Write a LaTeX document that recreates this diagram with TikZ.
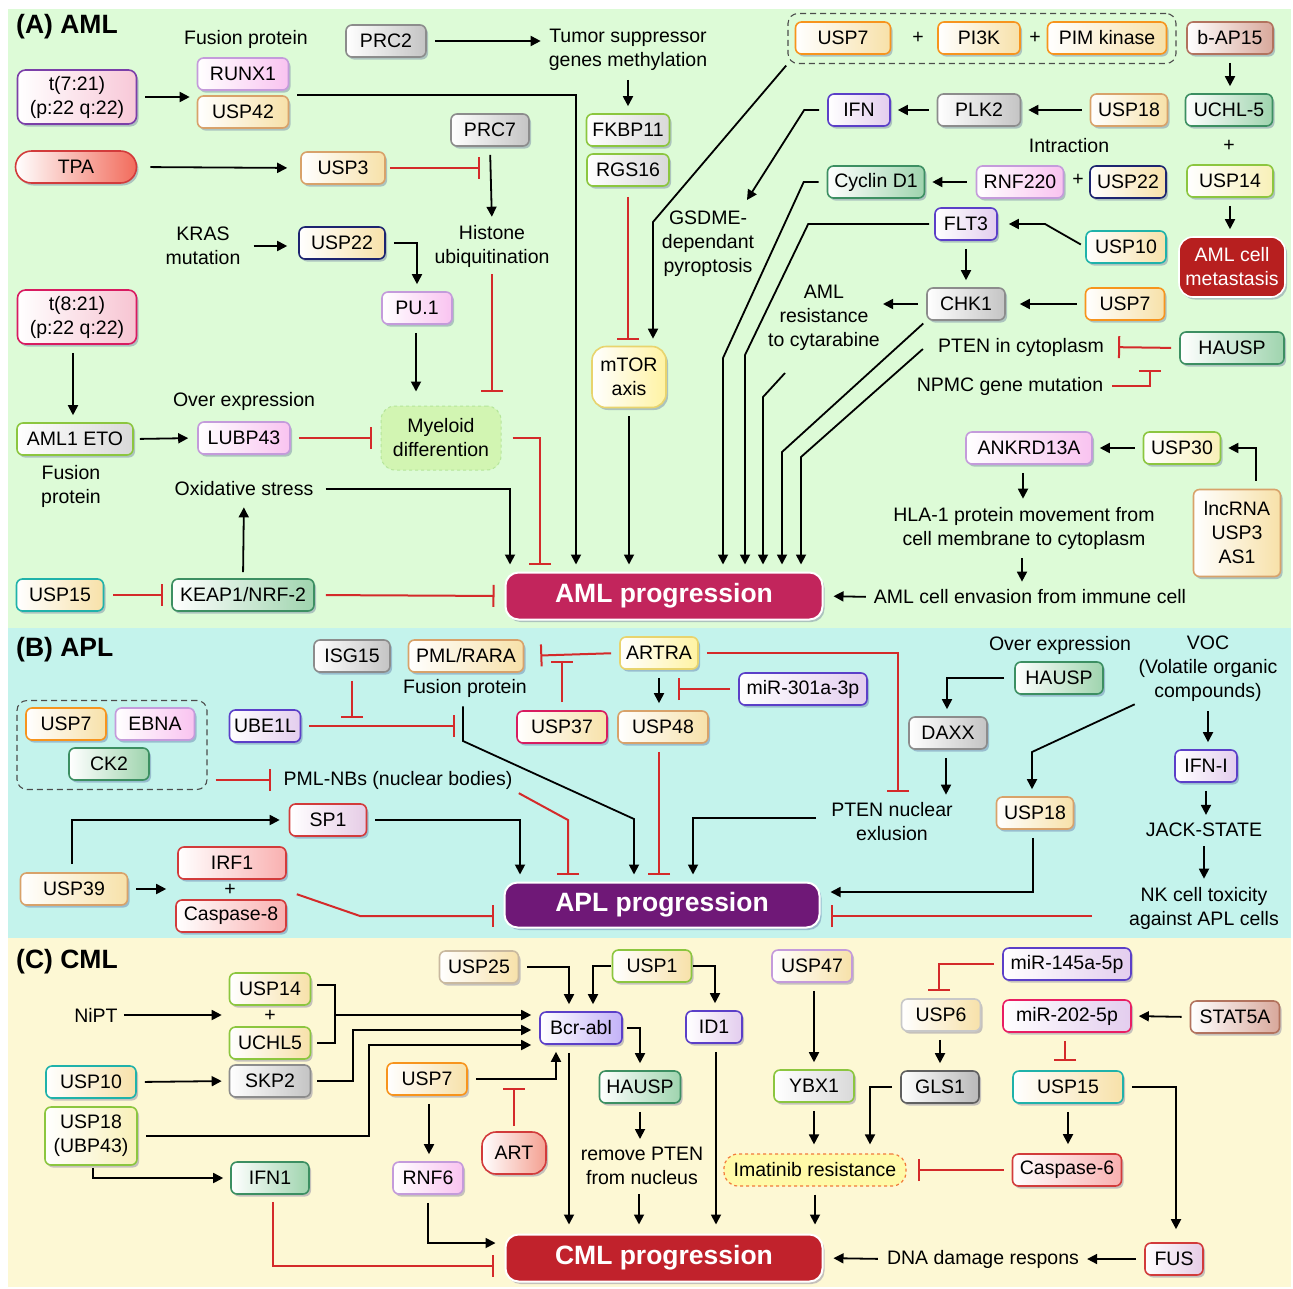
\documentclass[tikz,border=0pt]{standalone}
\usepackage{fontspec}
\setmainfont{Liberation Sans}
\usetikzlibrary{arrows.meta,shadows}
\newcommand\fsz{\fontsize{19.5}{24}\selectfont}
\newcommand\bsz{\fontsize{26.5}{30}\selectfont\bfseries}
\definecolor{bgA}{HTML}{DDFBD7}
\definecolor{bgB}{HTML}{C4F3EC}
\definecolor{bgC}{HTML}{FDF8D4}
\definecolor{purpB}{HTML}{7B3FA8}
\definecolor{pinkF}{HTML}{F9C3F0}
\definecolor{pinkT}{HTML}{F8C8D8}
\definecolor{lavB}{HTML}{C49BDB}
\definecolor{tanB}{HTML}{D8A26A}
\definecolor{wheatF}{HTML}{F7E1A9}
\definecolor{grayB}{HTML}{8C8C8C}
\definecolor{grayF}{HTML}{C4C4C4}
\definecolor{limeB}{HTML}{8CC63F}
\definecolor{lgrayF}{HTML}{D9D9D9}
\definecolor{navyB}{HTML}{1D2470}
\definecolor{crimB}{HTML}{D81B60}
\definecolor{pinkC}{HTML}{F7C4D2}
\definecolor{dgreenB}{HTML}{3C8F62}
\definecolor{greenF}{HTML}{9FD4AE}
\definecolor{tealB}{HTML}{1FB2AA}
\definecolor{orangeB}{HTML}{F7941D}
\definecolor{brownB}{HTML}{B2735E}
\definecolor{roseF}{HTML}{D8A89B}
\definecolor{yellowB}{HTML}{E8D46E}
\definecolor{yellowF}{HTML}{FFF3A3}
\definecolor{redB}{HTML}{D23B3B}
\definecolor{salmonF}{HTML}{F26B5B}
\definecolor{artF}{HTML}{F4A091}
\definecolor{pinkR}{HTML}{F9B0B0}
\definecolor{purpB2}{HTML}{5B3FC8}
\definecolor{lavF}{HTML}{E3CDEE}
\definecolor{lavF2}{HTML}{E6CCE6}
\definecolor{lavF3}{HTML}{C3B2F7}
\definecolor{yellowF2}{HTML}{F8F0B8}
\definecolor{metC}{HTML}{B71F1F}
\definecolor{amlC}{HTML}{C2255C}
\definecolor{aplC}{HTML}{6F1877}
\definecolor{cmlC}{HTML}{C1222C}
\definecolor{myelF}{HTML}{D2F5B2}
\definecolor{myelB}{HTML}{B5E59A}
\definecolor{imatF}{HTML}{FFFAA8}
\definecolor{imatB}{HTML}{F27A3A}
\definecolor{tgrayB}{HTML}{C9B99F}
\definecolor{dgrayB}{HTML}{606060}
\definecolor{grayF2}{HTML}{B8B8B8}
\definecolor{lgrayB}{HTML}{C8C8C8}
\definecolor{crimB2}{HTML}{E91E63}
\definecolor{inred}{HTML}{D42A2A}
\begin{document}
\begin{tikzpicture}[x=1pt,y=-1pt,
  shd/.style={drop shadow={shadow xshift=2pt,shadow yshift=-2.5pt,opacity=0.22,fill=black!60!blue}},
  bx/.style 2 args={draw=#1, left color=white, right color=#2, rounded corners=6pt, line width=1.6pt,
     inner sep=0pt, minimum height=32pt, align=center, font=\fsz, shd},
  txt/.style={align=center, inner sep=1pt, font=\fsz},
  arr/.style={line width=1.8pt, -{Triangle[length=10pt,width=10pt]}, shorten >=7pt, shorten <=8pt},
  inh/.style={draw=inred, line width=2pt, -{Bar[width=22pt]}, shorten >=6pt, shorten <=8pt},
  ttl/.style={font=\bsz, anchor=west, inner sep=0pt},
  prog/.style={fill=#1, draw=white, line width=2pt, rounded corners=13pt, minimum width=317pt,
     minimum height=47pt, text=white, font=\bsz, inner sep=0pt, shd},
  grp/.style={draw=black!70, dash pattern=on 6pt off 4pt, rounded corners=10pt, line width=1.1pt, inner sep=0pt}
]
\useasboundingbox (0,0) rectangle (1293,1288);
\fill[white] (0,0) rectangle (1293,1288);
\fill[bgA] (8,9) rectangle (1291,628);
\fill[bgB] (8,628) rectangle (1291,938);
\fill[bgC] (8,938) rectangle (1291,1287);

% ================= (A) AML =================
\node[ttl] (tA) at (16,27) {(A) AML};
\node[txt] (fp1) at (246,39) {Fusion protein};
\node[bx={purpB}{pinkT}, minimum width=119pt, minimum height=54pt, rounded corners=8pt] (t721) at (77,97) {t(7:21)\\(p:22 q:22)};
\node[bx={lavB}{pinkF}, minimum width=91pt] (runx) at (243,74) {RUNX1};
\node[bx={tanB}{wheatF}, minimum width=91pt] (usp42) at (243,112) {USP42};
\node[bx={grayB}{grayF}, minimum width=80pt] (prc2) at (386,41) {PRC2};
\node[txt] (tsg) at (628,50) {Tumor suppressor\\genes methylation};
\node[bx={limeB}{lgrayF}, minimum width=83pt] (fkbp) at (628,130) {FKBP11};
\node[bx={limeB}{lgrayF}, minimum width=82pt] (rgs) at (628,170) {RGS16};
\node[bx={yellowB}{yellowF}, minimum width=74pt, minimum height=61pt, rounded corners=14pt] (mtor) at (629,377) {mTOR\\axis};
\node[bx={grayB}{grayF}, minimum width=78pt] (prc7) at (490,130) {PRC7};
\node[txt] (hist) at (492,246) {Histone\\ubiquitination};
\node[bx={redB}{salmonF}, minimum width=121pt, rounded corners=16pt] (tpa) at (76,167) {TPA};
\node[bx={tanB}{wheatF}, minimum width=84pt] (usp3) at (343,168) {USP3};
\node[txt] (kras) at (203,246) {KRAS\\mutation};
\node[bx={navyB}{wheatF}, minimum width=86pt] (usp22a) at (342,243) {USP22};
\node[bx={lavB}{pinkF}, minimum width=70pt] (pu1) at (417,308) {PU.1};
\node[draw=myelB, fill=myelF, dashed, line width=1pt, rounded corners=14pt, minimum width=120pt,
      minimum height=64pt, inner sep=0pt, align=center, font=\fsz] (myel) at (441,438) {Myeloid\\differention};
\node[bx={crimB}{pinkC}, minimum width=119pt, minimum height=54pt, rounded corners=8pt] (t821) at (77,317) {t(8:21)\\(p:22 q:22)};
\node[bx={limeB}{lgrayF}, minimum width=116pt] (aml1) at (75,439) {AML1 ETO};
\node[txt] (fp2) at (71,486) {Fusion\\protein};
\node[txt] (oe1) at (244,401) {Over expression};
\node[bx={lavB}{pinkF}, minimum width=92pt] (lubp) at (244,438) {LUBP43};
\node[txt] (oxs) at (244,489) {Oxidative stress};
\node[bx={tealB}{wheatF}, minimum width=87pt] (usp15a) at (60,595) {USP15};
\node[bx={dgreenB}{greenF}, minimum width=142pt] (keap) at (243,595) {KEAP1/NRF-2};
\node[prog=amlC] (aml) at (664,596) {AML progression};

\node[grp, minimum width=388pt, minimum height=50pt] (grp1) at (982,38.5) {};
\node[bx={orangeB}{wheatF}, minimum width=95pt] (usp7a) at (843,38) {USP7};
\node[txt] (pl1) at (918,38) {+};
\node[bx={orangeB}{wheatF}, minimum width=82pt] (pi3k) at (979,38) {PI3K};
\node[txt] (pl2) at (1035,38) {+};
\node[bx={orangeB}{wheatF}, minimum width=119pt] (pim) at (1107,38) {PIM kinase};
\node[bx={brownB}{roseF}, minimum width=86pt] (bap) at (1230,38) {b-AP15};
\node[bx={dgreenB}{greenF}, minimum width=87pt] (uchl5a) at (1229,110) {UCHL-5};
\node[txt] (pl3) at (1229,146) {+};
\node[bx={limeB}{yellowF2}, minimum width=86pt] (usp14a) at (1230,181) {USP14};
\node[fill=metC, draw=white, line width=1.6pt, rounded corners=14pt, minimum width=106pt, minimum height=60pt,
      inner sep=0pt, align=center, font=\fsz, text=white, shd] (met) at (1232,267) {AML cell\\metastasis};
\node[bx={purpB2}{lavF}, minimum width=62pt] (ifn) at (859,110) {IFN};
\node[bx={grayB}{grayF}, minimum width=83pt] (plk2) at (979,110) {PLK2};
\node[bx={tanB}{wheatF}, minimum width=77pt] (usp18a) at (1129,110) {USP18};
\node[txt] (intr) at (1069,146) {Intraction};
\node[bx={dgreenB}{greenF}, minimum width=97pt] (cyc) at (876,182) {Cyclin D1};
\node[bx={lavB}{pinkF}, minimum width=87pt] (rnf220) at (1020,182) {RNF220};
\node[txt] (pl4) at (1078,180) {+};
\node[bx={navyB}{wheatF}, minimum width=76pt] (usp22b) at (1128,182) {USP22};
\node[txt] (gsdme) at (708,244) {GSDME-\\dependant\\pyroptosis};
\node[bx={purpB2}{lavF}, minimum width=62pt] (flt3) at (966,224) {FLT3};
\node[bx={tealB}{wheatF}, minimum width=80pt] (usp10a) at (1126,247) {USP10};
\node[bx={grayB}{grayF}, minimum width=78pt] (chk1) at (966,304) {CHK1};
\node[bx={orangeB}{wheatF}, minimum width=79pt] (usp7b) at (1125,304) {USP7};
\node[txt] (res) at (824,318) {AML\\resistance\\to cytarabine};
\node[txt] (ptenc) at (1021,347) {PTEN in cytoplasm};
\node[bx={dgreenB}{greenF}, minimum width=104pt] (hausp1) at (1232,348) {HAUSP};
\node[txt] (npmc) at (1010,386) {NPMC gene mutation};
\node[bx={lavB}{pinkF}, minimum width=126pt] (ankr) at (1029,448) {ANKRD13A};
\node[bx={limeB}{yellowF2}, minimum width=77pt] (usp30) at (1182,448) {USP30};
\node[bx={tanB}{wheatF}, minimum width=87pt, minimum height=87pt] (lnc) at (1237,533) {lncRNA\\USP3\\AS1};
\node[txt] (hla) at (1024,528) {HLA-1 protein movement from\\cell membrane to cytoplasm};
\node[txt] (env) at (1030,597) {AML cell envasion from immune cell};

\coordinate (b1) at (653,222);
\coordinate (g1) at (747,200);
\coordinate (c2) at (723,358);
\coordinate (c3) at (745,355);
\coordinate (c4s) at (785,373);
\coordinate (c4) at (763,397);
\coordinate (c5) at (782,452);
\coordinate (c6) at (801,457);
\coordinate (c10) at (1045,224);

\draw[arr] (t721.east) -- (t721.east -| runx.west);
\draw[arr] (usp42.north east) -| ([xshift=-88pt]aml.north);
\draw[arr] (prc2.east) -- (prc2.east -| tsg.west);
\draw[arr] (tsg.south) -- (fkbp.north);
\draw[inh, shorten <=10pt] (rgs.south) -- (rgs.south |- mtor.north);
\draw[arr, shorten <=2pt] (grp1.south west) -- (b1) -- (b1 |- mtor.north);
\draw[arr] (mtor.south) -- (mtor.south |- aml.north);
\draw[arr] (prc7.south) -- (hist.north);
\draw[inh, shorten <=6pt, shorten >=14pt] (hist.south) -- (hist.south |- myel.north);
\draw[arr, shorten <=13pt, shorten >=13pt] (tpa.east) -- (usp3.west);
\draw[inh, shorten <=4pt, shorten >=0pt] (usp3.east) -- ([xshift=-10pt]prc7.south |- usp3.east);
\draw[arr, shorten <=12pt, shorten >=11pt] (kras.east) -- (kras.east -| usp22a.west);
\draw[arr] (usp22a.east) -| (pu1.north);
\draw[arr, shorten >=14pt] ([xshift=-1pt]pu1.south) -- ([xshift=-1pt]pu1.south |- myel.north);
\draw[arr] ([xshift=-4pt]t821.south) -- ([xshift=-4pt]t821.south |- aml1.north);
\draw[arr, shorten <=6pt, shorten >=9pt] (aml1.east) -- (lubp.west);
\draw[inh, shorten >=9pt] (lubp.east) -- (myel.west);
\draw[inh, shorten <=11pt, shorten >=7pt] (myel.east) -| ([xshift=-124pt]aml.north);
\draw[arr, shorten <=11pt] (oxs.east) -| ([xshift=-154pt]aml.north);
\draw[arr, shorten <=6pt, shorten >=10pt] (keap.north) -- (oxs.south);
\draw[inh, shorten <=9pt, shorten >=8pt] (usp15a.east) -- (keap.west);
\draw[inh, shorten <=11pt, shorten >=10pt] (keap.east) -- (aml.west);
% right part
\draw[arr] (bap.south) -- (bap.south |- uchl5a.north);
\draw[arr] (usp14a.south) -- (usp14a.south |- met.north);
\draw[arr] (plk2.west) -- (ifn.east);
\draw[arr] (usp18a.west) -- (plk2.east);
\draw[arr, shorten <=9pt] (rnf220.west) -- (cyc.east);
\draw[arr, shorten <=5pt, shorten >=11pt] (usp10a.west) -- (c10) -- (flt3.east);
\draw[arr] (flt3.south) -- (chk1.north);
\draw[arr, shorten >=14pt] (usp7b.west) -- (chk1.east);
\draw[arr, shorten >=2pt] (chk1.west) -- (chk1.west -| res.east);
\draw[arr, shorten >=0pt] (ifn.west) -- ([xshift=-23pt]ifn.west) -- (g1);
\draw[arr] (cyc.west) -- ([xshift=-23pt]cyc.west) -- (c2) -- (c2 |- aml.north);
\draw[arr, shorten <=5pt] (flt3.west) -- ([xshift=-126pt]flt3.west) -- (c3) -- (c3 |- aml.north);
\draw[arr, shorten <=0pt] (c4s) -- (c4) -- (c4 |- aml.north);
\draw[arr, shorten <=4pt] (chk1.south west) -- (c5) -- (c5 |- aml.north);
\draw[arr, shorten <=0pt] ([xshift=-14pt,yshift=-2pt]ptenc.west) -- (c6) -- (c6 |- aml.north);
\draw[inh, shorten <=8pt, shorten >=13pt] (hausp1.west) -- (ptenc.east);
\draw[inh, shorten >=5pt] (npmc.east) -| ([xshift=-82pt]hausp1.south);
\draw[arr] (usp30.west) -- (ankr.east);
\draw[arr] ([xshift=19pt]lnc.north) |- (usp30.east);
\draw[arr] ([xshift=-6pt]ankr.south) -- ([xshift=-6pt]ankr.south |- hla.north);
\draw[arr] ([xshift=-2pt]hla.south) -- ([xshift=-2pt]hla.south |- env.north);
\draw[arr, shorten <=7pt, shorten >=10pt] (env.west) -- (aml.east);

% ================= (B) APL =================
\node[ttl] (tB) at (16,650) {(B) APL};
\node[bx={grayB}{grayF}, minimum width=76pt] (isg) at (352,656) {ISG15};
\node[bx={tanB}{wheatF}, minimum width=115pt] (pml) at (466,656) {PML/RARA};
\node[txt] (fp3) at (465,688) {Fusion protein};
\node[bx={yellowB}{yellowF}, minimum width=78pt] (artra) at (659,653) {ARTRA};
\node[bx={crimB}{wheatF}, minimum width=90pt] (usp37) at (562,727) {USP37};
\node[bx={tanB}{wheatF}, minimum width=90pt] (usp48) at (663,727) {USP48};
\node[bx={purpB2}{lavF}, minimum width=128pt] (mir301) at (803,689) {miR-301a-3p};
\node[bx={purpB2}{lavF}, minimum width=71pt] (ube) at (265,726) {UBE1L};
\node[grp, minimum width=190pt, minimum height=89pt] (grp2) at (112,745) {};
\node[bx={orangeB}{wheatF}, minimum width=80pt] (usp7c) at (66,724) {USP7};
\node[bx={lavB}{pinkF}, minimum width=79pt] (ebna) at (155,724) {EBNA};
\node[bx={dgreenB}{greenF}, minimum width=80pt] (ck2) at (109,764) {CK2};
\node[txt] (pmlnb) at (398,780) {PML-NBs (nuclear bodies)};
\node[bx={redB}{lavF2}, minimum width=77pt] (sp1) at (328,820) {SP1};
\node[bx={tanB}{wheatF}, minimum width=107pt] (usp39) at (74,889) {USP39};
\node[bx={redB}{pinkR}, minimum width=108pt] (irf1) at (232,863) {IRF1};
\node[txt] (pl5) at (230,890) {+};
\node[bx={redB}{pinkR}, minimum width=110pt] (casp8) at (231,916) {Caspase-8};
\node[prog=aplC, minimum width=315pt, minimum height=45pt] (apl) at (662,905) {APL progression};
\node[txt] (ptenn) at (892,822) {PTEN nuclear\\exlusion};
\node[txt] (oe2) at (1060,645) {Over expression};
\node[bx={dgreenB}{greenF}, minimum width=88pt] (hausp2) at (1059,678) {HAUSP};
\node[bx={grayB}{grayF}, minimum width=78pt] (daxx) at (948,733) {DAXX};
\node[txt] (voc) at (1208,669) {VOC\\(Volatile organic\\compounds)};
\node[bx={tanB}{wheatF}, minimum width=77pt] (usp18b) at (1035,813) {USP18};
\node[bx={purpB2}{lavF}, minimum width=62pt] (ifni) at (1206,766) {IFN-I};
\node[txt] (jack) at (1204,830) {JACK-STATE};
\node[txt] (nk) at (1204,908) {NK cell toxicity\\against APL cells};

\coordinate (d1) at (463,741);
\coordinate (d2) at (634,819);
\coordinate (d3) at (568,820);
\coordinate (d4) at (360,916);
\coordinate (d5) at (1032,752);

\draw[inh, shorten >=0pt] (isg.south) -- ([yshift=8pt]isg.south |- ube.east);
\draw[inh, shorten >=0pt] (ube.east) -- ([xshift=-10pt]fp3.south |- ube.east);
\draw[arr] ([xshift=-2pt]fp3.south) -- (d1) -- (d2) -- (d2 |- apl.north);
\draw[inh, shorten >=16pt] (artra.west) -- (pml.east);
\draw[inh, shorten >=0pt] (usp37.north) -- ([yshift=-5pt]usp37.north |- pml.east);
\draw[arr] (artra.south) -- (artra.south |- usp48.north);
\draw[inh, shorten >=0pt] (mir301.west) -- ([xshift=19pt]artra.south |- mir301.west);
\draw[inh, shorten >=10pt] (artra.east) -| ([xshift=6pt]ptenn.north);
\draw[inh, shorten >=11pt] (grp2.east |- pmlnb.west) -- (pmlnb.west);
\draw[inh, shorten <=6pt, shorten >=7pt] (pmlnb.south east) -- (d3) -- (d3 |- apl.north);
\draw[inh, shorten >=7pt] ([xshift=-4pt]usp48.south) -- ([xshift=-4pt]usp48.south |- apl.north);
\draw[arr] (sp1.east) -| ([xshift=-142pt]apl.north);
\draw[arr, shorten >=9pt] ([xshift=-2pt]usp39.north) |- (sp1.west);
\draw[arr, shorten >=11pt] (usp39.east) -- (usp39.east -| irf1.west);
\draw[inh, shorten <=0pt, shorten >=10pt] ([xshift=10pt,yshift=5pt]casp8.north east) -- (d4) -- (d4 -| apl.west);
\draw[arr, shorten <=14pt] ([yshift=4pt]ptenn.west) -| ([xshift=31pt]apl.north);
\draw[arr, shorten >=10pt] ([xshift=-2pt]usp18b.south) |- ([yshift=13pt]apl.east);
\draw[inh, shorten <=36pt, shorten >=10pt] ([yshift=-8pt]nk.west) -- ([yshift=-8pt]nk.west -| apl.east);
\draw[arr, shorten <=10pt] (hausp2.west) -| ([xshift=-1pt]daxx.north);
\draw[arr] ([xshift=-2pt]daxx.south) -- ([xshift=-2pt]daxx.south |- ptenn.north);
\draw[arr, shorten <=3pt] (voc.south west) -- (d5) -- (d5 |- usp18b.north);
\draw[arr] (voc.south) -- (voc.south |- ifni.north);
\draw[arr] (ifni.south) -- (ifni.south |- jack.north);
\draw[arr] (jack.south) -- (jack.south |- nk.north);

% ================= (C) CML =================
\node[ttl] (tC) at (16,962) {(C) CML};
\node[bx={tgrayB}{wheatF}, minimum width=79pt] (usp25) at (479,967) {USP25};
\node[bx={limeB}{wheatF}, minimum width=79pt] (usp1) at (652,966) {USP1};
\node[bx={purpB2}{lavF3}, minimum width=82pt] (bcr) at (581,1028) {Bcr-abl};
\node[txt] (nipt) at (96,1015) {NiPT};
\node[bx={limeB}{wheatF}, minimum width=81pt] (usp14b) at (270,989) {USP14};
\node[txt] (pl6) at (270,1016) {+};
\node[bx={limeB}{wheatF}, minimum width=81pt] (uchl5b) at (270,1043) {UCHL5};
\node[bx={tealB}{wheatF}, minimum width=90pt] (usp10b) at (91,1082) {USP10};
\node[bx={grayB}{grayF}, minimum width=81pt] (skp2) at (270,1081) {SKP2};
\node[bx={limeB}{yellowF2}, minimum width=92pt, minimum height=58pt] (usp18c) at (91,1136) {USP18\\(UBP43)};
\node[bx={dgreenB}{greenF}, minimum width=78pt] (ifn1) at (270,1178) {IFN1};
\node[bx={orangeB}{wheatF}, minimum width=80pt] (usp7d) at (427,1079) {USP7};
\node[bx={redB}{artF}, minimum width=64pt, minimum height=42pt, rounded corners=14pt] (art) at (514,1153) {ART};
\node[bx={lavB}{pinkF}, minimum width=70pt] (rnf6) at (428,1178) {RNF6};
\node[bx={dgreenB}{greenF}, minimum width=81pt] (hausp3) at (640,1087) {HAUSP};
\node[txt] (rem) at (642,1166) {remove PTEN\\from nucleus};
\node[bx={purpB2}{lavF}, minimum width=56pt] (id1) at (714,1027) {ID1};
\node[prog=cmlC] (cml) at (664,1258) {CML progression};
\node[bx={lavB}{wheatF}, minimum width=80pt] (usp47) at (812,966) {USP47};
\node[bx={limeB}{lgrayF}, minimum width=80pt] (ybx1) at (814,1086) {YBX1};
\node[draw=imatB, fill=imatF, dashed, line width=1.2pt, rounded corners=14pt, minimum width=182pt,
      minimum height=32pt, inner sep=0pt, font=\fsz] (imat) at (815,1170) {Imatinib resistance};
\node[bx={dgrayB}{grayF2}, minimum width=78pt] (gls1) at (940,1087) {GLS1};
\node[bx={purpB2}{lavF}, minimum width=128pt] (mir145) at (1067,964) {miR-145a-5p};
\node[bx={lgrayB}{wheatF}, minimum width=79pt] (usp6) at (941,1015) {USP6};
\node[bx={crimB2}{lavF}, minimum width=128pt] (mir202) at (1067,1016) {miR-202-5p};
\node[bx={brownB}{roseF}, minimum width=89pt] (stat) at (1235,1017) {STAT5A};
\node[bx={tealB}{wheatF}, minimum width=110pt] (usp15b) at (1068,1087) {USP15};
\node[bx={redB}{pinkR}, minimum width=109pt] (casp6) at (1067,1170) {Caspase-6};
\node[bx={redB}{lavF2}, minimum width=58pt] (fus) at (1174,1259) {FUS};
\node[txt] (dna) at (983,1259) {DNA damage respons};

\coordinate (c7) at (335,1015);
\coordinate (c8) at (353,1030);
\coordinate (c9) at (369,1045);

\draw[arr] (usp25.east) -| ([xshift=-12pt]bcr.north);
\draw[arr, shorten <=1pt] (usp1.west) -| ([xshift=12pt]bcr.north);
\draw[arr, shorten <=1pt] (usp1.east) -| ([xshift=1pt]id1.north);
\draw[arr, shorten <=5pt] (nipt.east) -- (nipt.east -| usp14b.west);
\draw[line width=1.8pt, shorten <=6pt, shorten >=6pt] ([yshift=4pt]usp14b.east) -| (c7) |- (uchl5b.east);
\draw[arr, shorten <=0pt, shorten >=8pt] (c7) -- (c7 -| bcr.west);
\draw[arr, shorten >=8pt, shorten <=6pt] (skp2.east) -| (c8) -- (c8 -| bcr.west);
\draw[arr, shorten >=8pt] (usp18c.east) -| (c9) -- (c9 -| bcr.west);
\draw[arr] (usp10b.east) -- (skp2.west);
\draw[arr, shorten <=2pt] ([xshift=2pt]usp18c.south) |- (ifn1.west);
\draw[inh, shorten <=7pt, shorten >=11pt] ([xshift=3pt]ifn1.south) |- ([yshift=-8pt]cml.west);
\draw[arr] (usp7d.east) -| ([xshift=-25pt]bcr.south);
\draw[inh, shorten <=5pt, shorten >=9pt] (art.north) -- (art.north |- usp7d.east);
\draw[arr] ([xshift=2pt]usp7d.south) -- ([xshift=2pt]usp7d.south |- rnf6.north);
\draw[arr, shorten >=9pt] (rnf6.south) |- ([yshift=15pt]cml.west);
\draw[arr, shorten >=9pt] ([xshift=-12pt]bcr.south) -- ([xshift=-12pt]bcr.south |- cml.north);
\draw[arr, shorten <=4pt] (bcr.east) -| (hausp3.north);
\draw[arr] (hausp3.south) -- (hausp3.south |- rem.north);
\draw[arr, shorten >=9pt] ([xshift=-3pt]rem.south) -- ([xshift=-3pt]rem.south |- cml.north);
\draw[arr, shorten >=9pt] ([xshift=2pt]id1.south) -- ([xshift=2pt]id1.south |- cml.north);
\draw[arr] ([xshift=2pt]usp47.south) -- ([xshift=2pt]usp47.south |- ybx1.north);
\draw[arr, shorten >=9pt] (ybx1.south) -- (ybx1.south |- imat.north);
\draw[arr, shorten >=9pt] (gls1.west) -| ([xshift=55pt]imat.north);
\draw[arr, shorten >=9pt] (imat.south) -- (imat.south |- cml.north);
\draw[inh, shorten >=7pt] (mir145.west) -| ([xshift=-2pt]usp6.north);
\draw[arr] ([xshift=-1pt]usp6.south) -- ([xshift=-1pt]usp6.south |- gls1.north);
\draw[arr] (stat.west) -- (mir202.east);
\draw[inh, shorten >=9pt] ([xshift=-2pt]mir202.south) -- ([xshift=-2pt]mir202.south |- usp15b.north);
\draw[arr, shorten >=9pt] (usp15b.south) -- (usp15b.south |- casp6.north);
\draw[arr, shorten >=13pt] (usp15b.east) -| ([xshift=2pt]fus.north);
\draw[inh, shorten >=11pt] (casp6.west) -- (imat.east);
\draw[arr] (fus.west) -- (dna.east);
\draw[arr, shorten >=10pt] (dna.west) -- (cml.east);
\end{tikzpicture}
\end{document}
